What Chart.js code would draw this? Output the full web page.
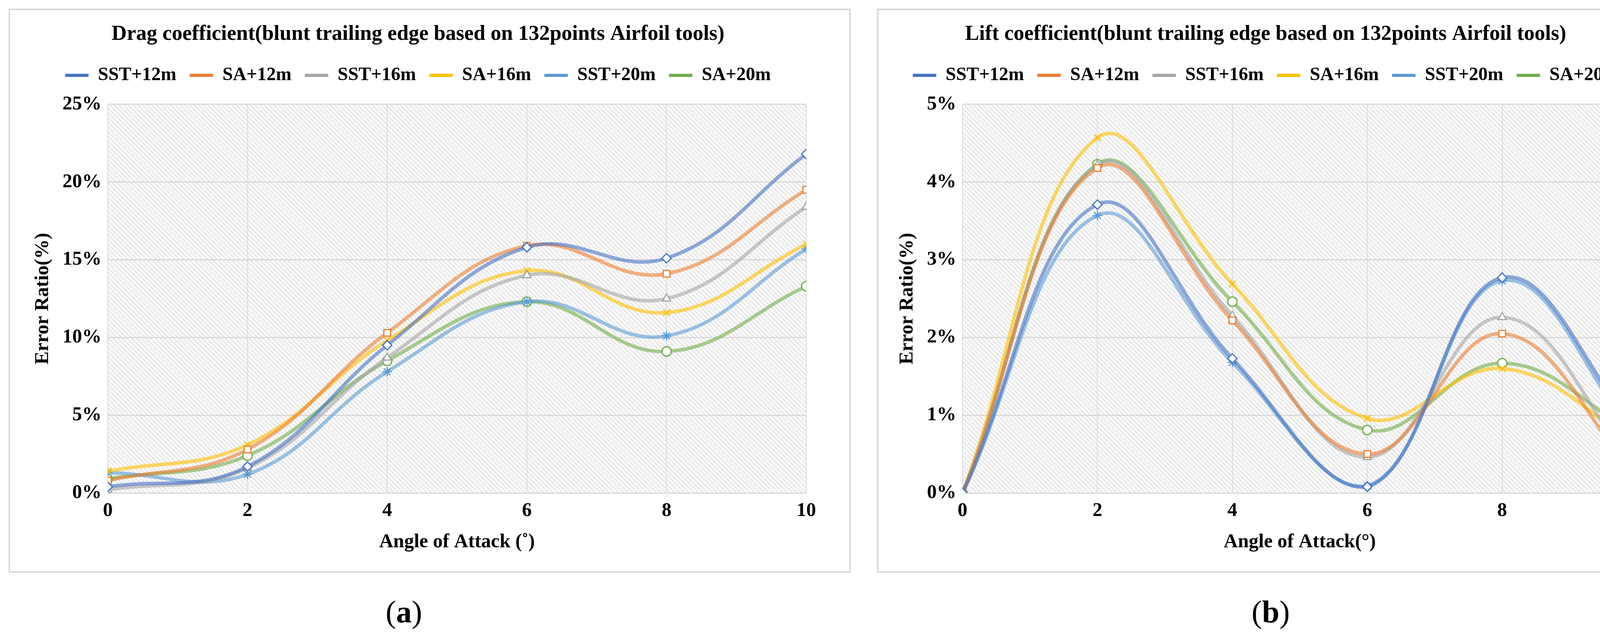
<!DOCTYPE html>
<html>
<head>
<meta charset="utf-8">
<script src="https://cdn.jsdelivr.net/npm/chart.js@4"></script>
<style>
  body { margin: 0; background: #fff; width: 4269px; height: 1632px; position: relative; overflow: hidden; }
  .box { position: absolute; border: 4px solid #d9d9d9; box-sizing: border-box; background: #fff; }
  .lbl { position: absolute; font-family: "Liberation Serif", serif; font-size: 80px; width: 300px; text-align: center; }
</style>
</head>
<body>
<div class="box" style="left:22px;top:22px;width:2156px;height:1443px"><canvas id="dragChart" width="2148" height="1435"></canvas></div>
<div class="box" style="left:2245px;top:22px;width:2000px;height:1443px"><canvas id="liftChart" width="1992" height="1435"></canvas></div>
<div class="lbl" style="left:884px;top:1520px">(<b>a</b>)</div>
<div class="lbl" style="left:3103px;top:1520px">(<b>b</b>)</div>
<script>
// data
const angles = [0, 2, 4, 6, 8, 10];
const seriesNames = ["SST+12m", "SA+12m", "SST+16m", "SA+16m", "SST+20m", "SA+20m"];

const dragSST12 = [0.4, 1.7, 9.5, 15.8, 15.1, 21.8];
const dragSA12 = [0.8, 2.8, 10.3, 15.9, 14.1, 19.5];
const dragSST16 = [0.2, 1.6, 8.7, 14.0, 12.5, 18.4];
const dragSA16 = [1.4, 3.1, 9.8, 14.3, 11.6, 16.0];
const dragSST20 = [1.3, 1.2, 7.8, 12.3, 10.1, 15.7];
const dragSA20 = [0.9, 2.4, 8.5, 12.3, 9.1, 13.3];

const liftSST12 = [0, 3.71, 1.73, 0.08, 2.77, 0.80];
const liftSA12 = [0, 4.18, 2.22, 0.50, 2.05, 0.21];
const liftSST16 = [0, 4.22, 2.28, 0.46, 2.26, 0.30];
const liftSA16 = [0, 4.57, 2.69, 0.96, 1.60, 0.65];
const liftSST20 = [0, 3.57, 1.68, 0.09, 2.73, 0.70];
const liftSA20 = [0, 4.23, 2.46, 0.81, 1.67, 0.75];

const colors = ["#4472C4", "#ED7D31", "#A5A5A5", "#FFC000", "#5B9BD5", "#70AD47"];
const markers = ["rectRot", "rect", "triangle", "crossRot", "star", "circle"];
const FONT = "'Liberation Serif', serif";

// hatch background
function makeHatch(ctx) {
  const c = document.createElement("canvas");
  c.width = 12; c.height = 12;
  const g = c.getContext("2d");
  g.fillStyle = "#fafafa";
  g.fillRect(0, 0, 12, 12);
  g.strokeStyle = "#dedede";
  g.lineWidth = 2;
  g.beginPath();
  g.moveTo(0, 0); g.lineTo(12, 12);
  g.moveTo(-6, 6); g.lineTo(6, 18);
  g.moveTo(6, -6); g.lineTo(18, 6);
  g.stroke();
  return ctx.createPattern(c, "repeat");
}
const hatchPlugin = {
  id: "hatch",
  beforeDraw(chart) {
    const a = chart.chartArea, ctx = chart.ctx;
    ctx.save();
    ctx.fillStyle = makeHatch(ctx);
    ctx.fillRect(a.left, a.top, a.right - a.left, a.bottom - a.top);
    ctx.restore();
  }
};
// extra space under the legend
const legendGap = {
  id: "legendGap",
  beforeInit(chart) {
    const fit = chart.legend.fit;
    chart.legend.fit = function () { fit.bind(chart.legend)(); this.height += 40; };
  }
};

function hexA(hex, a) {
  const n = parseInt(hex.slice(1), 16);
  return `rgba(${n >> 16},${(n >> 8) & 255},${n & 255},${a})`;
}

function makeChart(id, title, xTitle, yMax, step, lists, pad) {
  new Chart(document.getElementById(id), {
    type: "line",
    data: {
      labels: angles,
      datasets: lists.map((d, i) => ({
        label: seriesNames[i],
        data: d,
        borderColor: hexA(colors[i], 0.6),
        borderWidth: 9,
        tension: 0.4,
        pointStyle: markers[i],
        pointRadius: 12,
        pointBorderWidth: 3,
        pointBorderColor: colors[i],
        pointBackgroundColor: "#fff"
      }))
    },
    options: {
      responsive: false,
      devicePixelRatio: 1,
      animation: false,
      layout: { padding: pad },
      plugins: {
        title: { display: true, text: title, color: "#000", font: { family: FONT, size: 54, weight: "bold" }, padding: { top: 10, bottom: 14 } },
        legend: {
          labels: {
            color: "#000", font: { family: FONT, size: 48, weight: "bold" },
            boxWidth: 60, boxHeight: 8, padding: 34,
            generateLabels(chart) {
              return chart.data.datasets.map((ds, i) => ({
                text: ds.label, fillStyle: colors[i], strokeStyle: colors[i],
                lineWidth: 0, datasetIndex: i
              }));
            }
          }
        }
      },
      scales: {
        x: {
          type: "linear", min: 0, max: 10,
          ticks: { stepSize: 2, color: "#000", font: { family: FONT, size: 50, weight: "bold" }, padding: 16 },
          grid: { color: "#d9d9d9", lineWidth: 2, drawTicks: false },
          border: { display: false },
          title: { display: true, text: xTitle, color: "#000", font: { family: FONT, size: 50, weight: "bold" } }
        },
        y: {
          min: 0, max: yMax,
          ticks: { stepSize: step, color: "#000", font: { family: FONT, size: 50, weight: "bold" }, padding: 16, callback: v => v + "%" },
          grid: { color: "#d9d9d9", lineWidth: 3, drawTicks: false },
          border: { display: false },
          title: { display: true, text: "Error Ratio(%)", color: "#000", font: { family: FONT, size: 50, weight: "bold" } }
        }
      }
    },
    plugins: [hatchPlugin, legendGap]
  });
}

makeChart("dragChart", "Drag coefficient(blunt trailing edge based on 132points Airfoil tools)", "Angle of Attack (\u02da)", 25, 5,
  [dragSST12, dragSA12, dragSST16, dragSA16, dragSST20, dragSA20],
  { left: 50, right: 110, top: 20, bottom: 40 });
makeChart("liftChart", "Lift coefficient(blunt trailing edge based on 132points Airfoil tools)", "Angle of Attack(\u00b0)", 5, 1,
  [liftSST12, liftSA12, liftSST16, liftSA16, liftSST20, liftSA20],
  { left: 40, right: 50, top: 20, bottom: 40 });
</script>
</body>
</html>
